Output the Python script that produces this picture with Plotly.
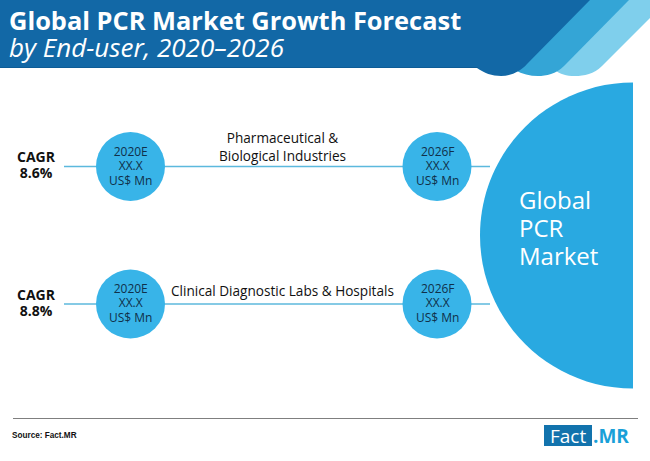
import plotly.graph_objects as go

title_main = "Global PCR Market Growth Forecast"
title_sub = "by End-user, 2020–2026"
segments = [["Pharmaceutical &", "Biological Industries"], ["Clinical Diagnostic Labs & Hospitals"]]
cagr = ["8.6%", "8.8%"]
years = ["2020E", "2026F"]
value_label = "XX.X"
unit_label = "US$ Mn"
hub_lines = ["Global", "PCR", "Market"]
source = "Source: Fact.MR"

FONT = "Open Sans"
row_y = [166.5, 304]
node_x = [130.5, 437]
segment_y = [146, 290]
NODE_R = 34.5
BLUE = "#38b4e8"
HUB = "#29a9e1"
LINE = "#5cb9dd"

fig = go.Figure()
shapes = []

def path(d, fill):
    shapes.append(dict(type="path", path=d, fillcolor=fill, line=dict(width=0), layer="below"))

K = 0.5523
# header ribbons, back to front
path("M 626,0 L 650,0 L 650,18 L 602,66 C 594,74 584,76 575,76 C 566,76 560,74 555,70 Z", "#7fcfec")
path("M 588,0 L 629,0 L 564,66 C 556,74 546,76 538,76 C 530,76 522,74 515,70 Z", "#34a5d6")
path("M 0,0 L 590,0 L 527,64 C 520,72 510,76 501,76 C 492,76 484,73 477,68 L 0,68 Z", "#1268a6")
shapes.append(dict(type="line", x0=0, x1=478, y0=67.5, y1=67.5, line=dict(color="#0d5c96", width=1), layer="below"))

# hub half disc
hx, hy, hr = 633, 235.5, 153
c = hr * K
path(f"M {hx},{hy-hr} C {hx-c},{hy-hr} {hx-hr},{hy-c} {hx-hr},{hy} "
     f"C {hx-hr},{hy+c} {hx-c},{hy+hr} {hx},{hy+hr} Z", HUB)

# connector lines
for y in row_y:
    shapes.append(dict(type="line", x0=64, x1=490, y0=y, y1=y, line=dict(color=LINE, width=1.3), layer="below"))
# footer rule
shapes.append(dict(type="line", x0=13, x1=638, y0=418.5, y1=418.5, line=dict(color="#7f7f7f", width=1.2), layer="below"))
# logo box
shapes.append(dict(type="rect", x0=544, x1=592, y0=425, y1=446, fillcolor="#1273ad", line=dict(width=0), layer="below"))

xs = [x for _ in row_y for x in node_x]
ys = [y for y in row_y for _ in node_x]
fig.add_trace(go.Scatter(x=xs, y=ys, mode="markers", hoverinfo="skip",
                         marker=dict(size=2 * NODE_R, color=BLUE, line=dict(width=0))))

def txt(x, y, s, size, color="#111111", anchor="center", family=FONT):
    fig.add_annotation(x=x, y=y, text=s, showarrow=False, xanchor=anchor, yanchor="middle",
                       align=anchor, font=dict(size=size, color=color, family=family), xref="x", yref="y")

def sized(s, px):
    return f'<span style="font-size:{px}px">{s}</span>'

txt(7, 33.5, f"{sized('<b>' + title_main + '</b>', 25.4)}<br>{sized('<i>' + title_sub + '</i>', 26)}", 20.8, "#ffffff", "left")

for i, y in enumerate(row_y):
    txt(36, y - 2, "<br>".join(sized(f"<b>{s}</b>", 14) for s in ["CAGR", cagr[i]]), 12.3)
    txt(282, segment_y[i], "<br>".join(segments[i]), 13.6)
    for j, x in enumerate(node_x):
        txt(x, y - 1, "<br>".join(sized(s, 12) for s in [years[j], value_label, unit_label]), 11.15, "#10304a")

txt(517, 227, "<br>".join(sized(s, 24) for s in hub_lines), 21.5, "#ffffff", "left")
txt(10, 435, f"<b>{source}</b>", 8.2, "#111111", "left", family="Liberation Sans")
txt(568, 435.5, "Fact", 19, "#ffffff")
txt(591, 436, "<b>.MR</b>", 19, "#19a0d8", "left")

fig.update_layout(
    width=650, height=461, margin=dict(l=0, r=0, t=0, b=0), autosize=False,
    paper_bgcolor="#ffffff", plot_bgcolor="#ffffff", showlegend=False, shapes=shapes,
    xaxis=dict(range=[0, 650], visible=False, fixedrange=True),
    yaxis=dict(range=[461, 0], visible=False, fixedrange=True),
)
fig.write_html("out.html", config=dict(displayModeBar=False),
               post_script="document.body.style.margin='0';document.documentElement.style.overflow='hidden';")
